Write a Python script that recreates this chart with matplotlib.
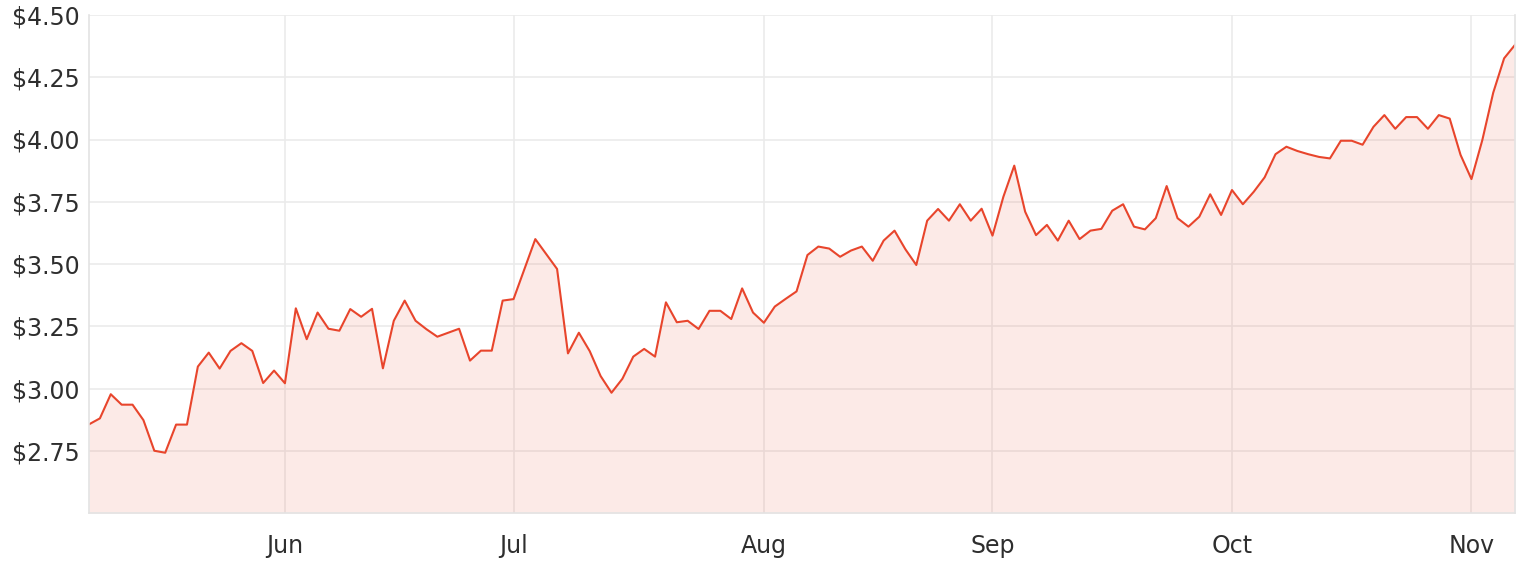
import matplotlib
matplotlib.use("Agg")
import matplotlib.pyplot as plt
import pandas as pd

# daily closes, ASX trading days 6 May 2020 - 6 Nov 2020
start_date = "2020-05-06"
end_date = "2020-11-06"
holidays = ["2020-06-08"]

may_prices = [2.856, 2.880, 2.977, 2.935, 2.935, 2.873, 2.750, 2.742, 2.855,
              2.855, 3.088, 3.144, 3.080, 3.151, 3.182, 3.151, 3.022, 3.072]
jun_prices = [3.021, 3.322, 3.198, 3.305, 3.240, 3.232, 3.319, 3.288, 3.320,
              3.081, 3.272, 3.353, 3.272, 3.238, 3.208, 3.224, 3.240, 3.112,
              3.152, 3.152, 3.353]
jul_prices = [3.359, 3.480, 3.600, 3.540, 3.480, 3.141, 3.224, 3.150, 3.050,
              2.983, 3.039, 3.128, 3.159, 3.128, 3.346, 3.266, 3.272, 3.239,
              3.312, 3.312, 3.279, 3.402, 3.305]
aug_prices = [3.264, 3.329, 3.360, 3.390, 3.536, 3.570, 3.562, 3.529, 3.554,
              3.570, 3.513, 3.594, 3.634, 3.559, 3.496, 3.674, 3.721, 3.674,
              3.740, 3.674, 3.722]
sep_prices = [3.614, 3.770, 3.895, 3.710, 3.616, 3.657, 3.594, 3.674, 3.600,
              3.634, 3.641, 3.714, 3.740, 3.650, 3.639, 3.684, 3.813, 3.684,
              3.650, 3.690, 3.780, 3.697]
oct_prices = [3.797, 3.740, 3.790, 3.848, 3.941, 3.971, 3.954, 3.941, 3.930,
              3.924, 3.995, 3.995, 3.979, 4.051, 4.098, 4.043, 4.090, 4.090,
              4.043, 4.098, 4.084, 3.938]
nov_prices = [3.841, 3.998, 4.188, 4.326, 4.380]

y_ticks = [2.75, 3.00, 3.25, 3.50, 3.75, 4.00, 4.25, 4.50]
month_labels = ["Jun", "Jul", "Aug", "Sep", "Oct", "Nov"]

LINE = "#e8452c"
GRID = "#ebebeb"
TEXT = "#2e2e2e"


def main():
    prices = (may_prices + jun_prices + jul_prices + aug_prices
              + sep_prices + oct_prices + nov_prices)
    dates = pd.bdate_range(start_date, end_date, freq="C", holidays=holidays)
    idx = list(range(len(prices)))

    # first trading day of each month -> tick position
    months = pd.Series(dates.month)
    month_starts = [i for i in idx[1:] if months[i] != months[i - 1]]

    plt.rcParams["font.family"] = ["DejaVu Sans"]
    fig = plt.figure(figsize=(15.22, 5.64), dpi=100)
    ax = fig.add_axes([89 / 1522, 1 - 513 / 564, (1515 - 89) / 1522, 498 / 564])

    ymin, ymax = 2.5, 4.5
    ax.fill_between(idx, prices, ymin, color=LINE, alpha=0.11, linewidth=0)
    ax.plot(idx, prices, color=LINE, linewidth=1.5)

    ax.set_xlim(0, len(prices) - 1)
    ax.set_ylim(ymin, ymax)
    ax.set_yticks(y_ticks)
    ax.set_yticklabels(["$%.2f" % v for v in y_ticks])
    ax.set_xticks(month_starts)
    ax.set_xticklabels(month_labels)

    ax.grid(True, color=GRID, linewidth=1.2)
    ax.set_axisbelow(True)
    ax.tick_params(axis="both", length=0, labelsize=17, labelcolor=TEXT)
    ax.tick_params(axis="y", pad=7)
    ax.tick_params(axis="x", pad=15)
    for side in ax.spines:
        ax.spines[side].set_color("#e3e3e3")
        ax.spines[side].set_linewidth(1.2)
    ax.spines["top"].set_visible(False)

    fig.savefig("out.png", dpi=100)


if __name__ == "__main__":
    main()
